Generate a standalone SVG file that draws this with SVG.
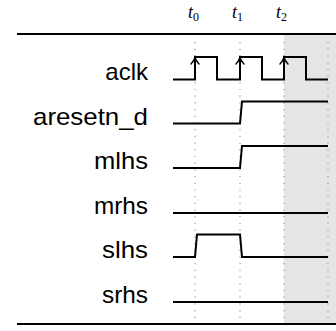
<svg xmlns="http://www.w3.org/2000/svg" width="336" height="331" viewBox="0 0 336 331">
<style>
.lbl{font-family:"Liberation Sans",Arial,sans-serif;font-size:24px;fill:#000;text-anchor:end}
.t{font-family:"Liberation Serif","Times New Roman",serif;font-size:18px;font-style:italic;fill:#000}
.sub{font-style:normal;font-size:12px}
.sig{fill:none;stroke:#000;stroke-width:2;stroke-linejoin:miter}
.rule{stroke:#000;stroke-width:2}
.dot{stroke:#999;stroke-width:1.2;stroke-dasharray:1.2 5.5}
.arr{fill:none;stroke:#000;stroke-width:1.5;stroke-linecap:round}
</style>
<rect x="284" y="35" width="52" height="288" fill="#e5e5e5"/>
<g id="rules">
<line class="rule" x1="17" y1="34" x2="336" y2="34"/>
<line class="rule" x1="17" y1="324" x2="336" y2="324"/>
</g>
<g id="times">
<text class="t" x="188" y="18">t<tspan class="sub" dy="3">0</tspan></text>
<text class="t" x="232" y="18">t<tspan class="sub" dy="3">1</tspan></text>
<text class="t" x="276" y="18">t<tspan class="sub" dy="3">2</tspan></text>
<line class="dot" x1="195" y1="42" x2="195" y2="318"/>
<line class="dot" x1="240" y1="42" x2="240" y2="318"/>
<line class="dot" x1="284" y1="42" x2="284" y2="318"/>
<line class="dot" x1="328" y1="42" x2="328" y2="318"/>
</g>
<g id="aclk">
<text class="lbl" x="148" y="80">aclk</text>
<path class="sig" d="M173,79.5 H195 V57 H217 V79.5 H240 V57 H262 V79.5 H284 V57 H306 V79.5 H328"/>
<path class="arr" d="M191,64 Q194,61 195,57.5 Q196,61 199,64"/>
<path class="arr" d="M236,64 Q239,61 240,57.5 Q241,61 244,64"/>
<path class="arr" d="M280,64 Q283,61 284,57.5 Q285,61 288,64"/>
</g>
<g id="aresetn_d">
<text class="lbl" x="148" y="125" textLength="115" lengthAdjust="spacingAndGlyphs">aresetn_d</text>
<path class="sig" d="M173,123.5 H240 L242,101.5 H328"/>
</g>
<g id="mlhs">
<text class="lbl" x="148" y="169" textLength="54" lengthAdjust="spacingAndGlyphs">mlhs</text>
<path class="sig" d="M173,168 H240 L242,146 H328"/>
</g>
<g id="mrhs">
<text class="lbl" x="148" y="214" textLength="54" lengthAdjust="spacingAndGlyphs">mrhs</text>
<path class="sig" d="M173,213 H328"/>
</g>
<g id="slhs">
<text class="lbl" x="148" y="258" textLength="46" lengthAdjust="spacingAndGlyphs">slhs</text>
<path class="sig" d="M173,257 H195 L197,234.5 H240 L242,257 H328"/>
</g>
<g id="srhs">
<text class="lbl" x="148" y="303" textLength="46" lengthAdjust="spacingAndGlyphs">srhs</text>
<path class="sig" d="M173,302 H328"/>
</g>
</svg>
